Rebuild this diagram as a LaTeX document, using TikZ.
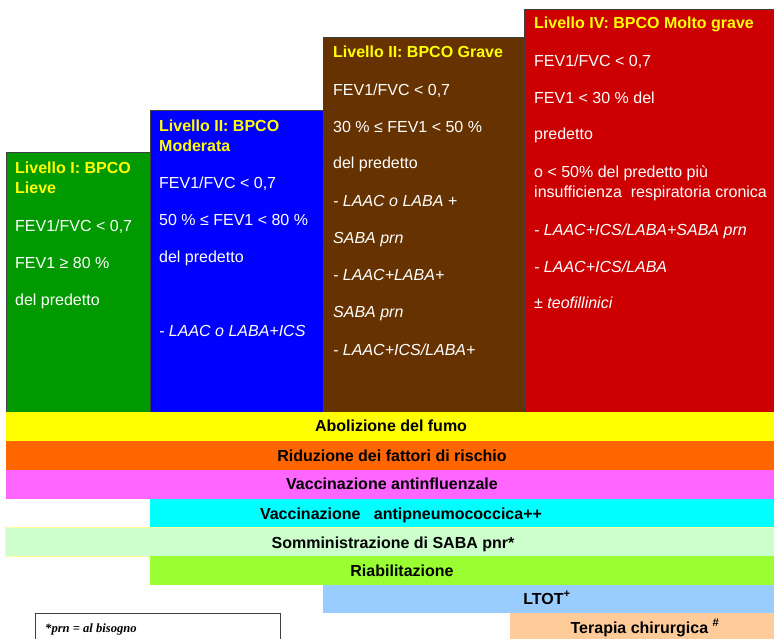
\documentclass[tikz,border=0pt]{standalone}
\usepackage{fontspec}
\setmainfont{Liberation Sans}
\newfontfamily\notefont{Liberation Serif}
\definecolor{cgreen}{HTML}{009900}
\definecolor{cblue}{HTML}{0000FF}
\definecolor{cbrown}{HTML}{663300}
\definecolor{cred}{HTML}{CC0000}
\definecolor{cyel}{HTML}{FFFF00}
\definecolor{corange}{HTML}{FF6600}
\definecolor{cpink}{HTML}{FF66FF}
\definecolor{ccyan}{HTML}{00FFFF}
\definecolor{clgreen}{HTML}{CCFFCC}
\definecolor{clgborder}{HTML}{FFFF99}
\definecolor{clime}{HTML}{99FF33}
\definecolor{clblue}{HTML}{99CCFF}
\definecolor{cpeach}{HTML}{FFCC99}
\tikzset{
  lvl/.style={draw=black!75, line width=0.8pt, anchor=north west, inner sep=0pt},
  ttl/.style={anchor=base west, inner sep=0pt, text=cyel, font=\fontsize{16}{20}\selectfont\bfseries},
  txt/.style={anchor=base west, inner sep=0pt, text=white, font=\fontsize{16}{20}\selectfont},
  itx/.style={anchor=base west, inner sep=0pt, text=white, font=\fontsize{16}{20}\selectfont\itshape},
  band/.style={anchor=north west, inner sep=0pt, draw=none},
  btxt/.style={anchor=base, inner sep=0pt, text=black, font=\fontsize{16}{20}\selectfont\bfseries},
}
\begin{document}
\begin{tikzpicture}[x=1pt,y=-1pt]
\useasboundingbox (0,0) rectangle (774,638);
% level boxes
\node[lvl, fill=cgreen, minimum width=144pt, minimum height=260pt] (L1) at (6,152) {};
\node[lvl, fill=cblue, minimum width=173pt, minimum height=302pt] (L2) at (150,110) {};
\node[lvl, fill=cbrown, minimum width=201pt, minimum height=375pt] (L3) at (323,37) {};
\node[lvl, fill=cred, minimum width=256pt, minimum height=403pt] (L4) at (524,9) {};
% green texts
\node[ttl] (g1) at (15,173) {Livello I: BPCO};
\node[ttl] (g2) at (15,193) {Lieve};
\node[txt] (g3) at (15,231) {FEV1/FVC < 0,7};
\node[txt] (g4) at (15,268) {FEV1 ≥ 80 \%};
\node[txt] (g5) at (15,305) {del predetto};
% blue texts
\node[ttl] (u1) at (159,131) {Livello II: BPCO};
\node[ttl] (u2) at (159,151) {Moderata};
\node[txt] (u3) at (159,188) {FEV1/FVC < 0,7};
\node[txt] (u4) at (159,225) {50 \% ≤ FEV1 < 80 \%};
\node[txt] (u5) at (159,262) {del predetto};
\node[itx] (u6) at (159,336) {- LAAC o LABA+ICS};
% brown texts
\node[ttl] (r1) at (333,57) {Livello II: BPCO Grave};
\node[txt] (r2) at (333,95) {FEV1/FVC < 0,7};
\node[txt] (r3) at (333,132) {30 \% ≤ FEV1 < 50 \%};
\node[txt] (r4) at (333,168) {del predetto};
\node[itx] (r5) at (333,206) {- LAAC o LABA +};
\node[itx] (r6) at (333,243) {SABA prn};
\node[itx] (r7) at (333,280) {- LAAC+LABA+};
\node[itx] (r8) at (333,317) {SABA prn};
\node[itx] (r9) at (333,355) {- LAAC+ICS/LABA+};
% red texts
\node[ttl] (v1) at (534,28) {Livello IV: BPCO Molto grave};
\node[txt] (v2) at (534,66) {FEV1/FVC < 0,7};
\node[txt] (v3) at (534,103) {FEV1 < 30 \% del};
\node[txt] (v4) at (534,139) {predetto};
\node[txt] (v5) at (534,177) {o < 50\% del predetto più};
\node[txt] (v6) at (534,197) {insufficienza\ \ respiratoria cronica};
\node[itx] (v7) at (534,235) {- LAAC+ICS/LABA+SABA prn};
\node[itx] (v8) at (534,272) {- LAAC+ICS/LABA};
\node[itx] (v9) at (534,308) {± teofillinici};
% bands
\node[band, fill=cyel, minimum width=776pt, minimum height=29pt] (B1) at (6,412) {};
\node[band, fill=corange, minimum width=776pt, minimum height=29pt] (B2) at (6,441) {};
\node[band, fill=cpink, minimum width=776pt, minimum height=29pt] (B3) at (6,470) {};
\node[band, fill=ccyan, minimum width=630pt, minimum height=28pt] (B4) at (150,499) {};
\node[band, fill=clgreen, draw=clgborder, line width=0.8pt, minimum width=776pt, minimum height=29pt] (B5) at (5,527) {};
\node[band, fill=clime, minimum width=630pt, minimum height=29pt] (B6) at (150,556) {};
\node[band, fill=clblue, minimum width=460pt, minimum height=28pt] (B7) at (323,585) {};
\node[band, fill=cpeach, minimum width=270pt, minimum height=32pt] (B8) at (510,613) {};
% band texts
\node[btxt] (T1) at (391,431) {Abolizione del fumo};
\node[btxt] (T2) at (392,461) {Riduzione dei fattori di rischio};
\node[btxt] (T3) at (392,489) {Vaccinazione antinfluenzale};
\node[btxt] (T4) at (401,519) {Vaccinazione\ \ \ antipneumococcica++};
\node[btxt] (T5) at (393,548) {Somministrazione di SABA pnr*};
\node[btxt] (T6) at (402,576) {Riabilitazione};
\node[btxt] (T7) at (547,604) {LTOT\textsuperscript{+}};
\node[btxt] (T8) at (645,633) {Terapia chirurgica \textsuperscript{\#}};
% footnote
\node[anchor=north west, draw=black!75, line width=1pt, fill=white, minimum width=245pt, minimum height=40pt, inner sep=0pt] (N) at (35,613) {};
\node[anchor=base west, inner sep=0pt, font=\notefont\fontsize{12.6}{14}\selectfont\bfseries\itshape] (Nt) at (45,632) {*prn = al bisogno};
\end{tikzpicture}
\end{document}
